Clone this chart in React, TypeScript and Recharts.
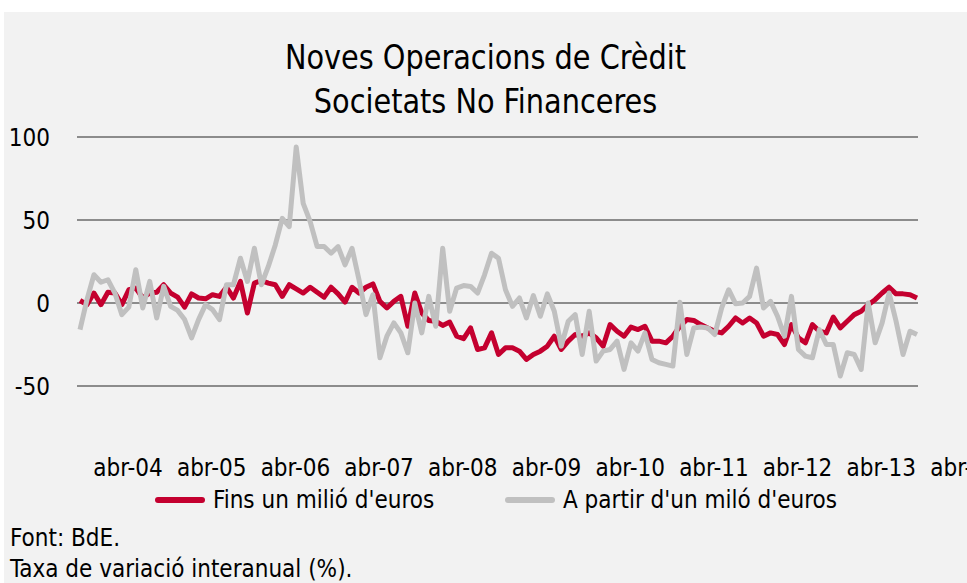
import { LineChart, Line, XAxis, YAxis, ReferenceLine } from "recharts";

const FONT = "'DejaVu Sans Condensed', 'DejaVu Sans', sans-serif";
const RED = "#c4002f";
const GRAY = "#c0c0c0";

// mesos en català, la sèrie comença a abr-04
const monthNames = ["gen", "feb", "març", "abr", "maig", "juny", "jul", "ag", "set", "oct", "nov", "des"];
const startMonth = 3;
const startYear = 4;

// Fins un milió d'euros (taxa interanual, %)
const finsUnMilio = [
  1.5, -1, 6, -1, 6.5, 6, -1, 8, 9, 3, 6, 6.5,
  11, 6, 3.5, -2.5, 5.5, 3, 2.5, 5, 4, 9.5, 3, 13,
  -6, 12, 13.5, 12, 11, 4, 11, 8.5, 6, 9.5, 6.5, 3.5,
  9.5, 5.5, 0.5, 9.5, 6, 9.5, 11.5, 1, -3, 1, 4, -14,
  6, -6, -10.5, -11, -13.5, -11.5, -20, -21.5, -15, -28, -27, -18,
  -31, -27, -27, -29, -34, -31, -29, -26, -20, -28, -23, -19,
  -20, -18, -21, -26, -13, -17, -20, -14.5, -16, -14, -23, -23,
  -24, -20, -14, -10, -10.5, -13, -15, -17, -18, -14, -9, -12,
  -9, -12, -20, -18, -19, -25, -13, -21, -24, -13, -17, -18,
  -8.5, -15, -11, -7, -5, -1, 2, 6, 9.5, 5.5, 5.5, 5,
  3,
];

// A partir d'un milió d'euros (taxa interanual, %)
const aPartirMilio = [
  -16, 2, 17, 12.5, 14, 6, -7, -2.5, 20, -3, 13, -9,
  10, -2, -4.5, -10, -21, -10, -1, -4, -10, 11, 11, 27,
  13, 33, 11, 22, 35, 51, 46, 94, 60, 49, 34, 34,
  30, 34, 23, 33, 14, -7, 5, -33, -20, -12, -18, -30,
  0, -18, 4, -14, 33, -5, 9, 10.5, 10, 6, 17, 30,
  27, 8, -2, 3, -9, 4.5, -8, 5.5, -5, -26, -11, -7,
  -31, -5, -35, -29, -28, -23, -40, -24, -29, -18, -34, -36,
  -37, -38, 0.5, -31, -15, -14.5, -15, -19, -3, 8, -0.5, 0,
  4, 21, -3, 1, -8, -20, 4, -28, -32, -33, -16, -25,
  -25, -44, -30, -31, -40, 0, -24, -12, 6, -11, -31, -17,
  -19,
];

const yTicks = [-50, 0, 50, 100];

const categories = finsUnMilio.map((_, i) => {
  const m = (startMonth + i) % 12;
  const y = startYear + Math.floor((startMonth + i) / 12);
  return `${monthNames[m]}-${String(y).padStart(2, "0")}`;
});

const data = categories.map((month, i) => ({
  month,
  fins: finsUnMilio[i],
  apartir: aPartirMilio[i],
}));

function MonthTick({ x, y, payload }: any) {
  return (
    <text
      x={x + 48}
      y={y - 10}
      dy="0.71em"
      textAnchor="middle"
      fontSize={24}
      fontFamily={FONT}
      style={{ fontStretch: "condensed" }}
      fill="#000"
    >
      {payload.value}
    </text>
  );
}

function LegendItem({ color, label, left }: { color: string; label: string; left: number }) {
  return (
    <div style={{ position: "absolute", left, top: 474, display: "flex", alignItems: "center", height: 28 }}>
      <div style={{ width: 50, height: 6, borderRadius: 3, background: color, marginRight: 8 }} />
      <span>{label}</span>
    </div>
  );
}

export default function App() {
  return (
    <div
      style={{
        position: "absolute",
        left: 4,
        top: 12,
        width: 963,
        height: 571,
        background: "#f2f2f2",
        fontFamily: FONT,
        fontStretch: "condensed",
        fontSize: 24,
        color: "#000",
        overflow: "hidden",
      }}
    >
      <LineChart width={963} height={500} data={data} margin={{ top: 125, right: 49, left: 0, bottom: 3 }}>
        {yTicks.map((v) => (
          <ReferenceLine key={v} y={v} stroke="#8c8c8c" strokeWidth={2} />
        ))}
        <XAxis
          dataKey="month"
          interval={11}
          tick={<MonthTick />}
          tickLine={false}
          axisLine={false}
          tickSize={0}
          tickMargin={0}
          height={40}
          padding={{ left: 3, right: 1 }}
        />
        <YAxis
          domain={[-100, 100]}
          ticks={yTicks}
          tick={{ fontSize: 24, fontFamily: FONT, fill: "#000", style: { fontStretch: "condensed" } }}
          tickLine={false}
          axisLine={false}
          tickSize={0}
          tickMargin={27}
          width={73}
        />
        <Line
          type="linear"
          dataKey="fins"
          stroke={RED}
          strokeWidth={5}
          strokeLinejoin="round"
          dot={false}
          isAnimationActive={false}
        />
        <Line
          type="linear"
          dataKey="apartir"
          stroke={GRAY}
          strokeWidth={5}
          strokeLinejoin="round"
          dot={false}
          isAnimationActive={false}
        />
      </LineChart>

      <div
        style={{
          position: "absolute",
          top: 23,
          left: 0,
          width: "100%",
          textAlign: "center",
          fontSize: 34,
          lineHeight: "44px",
          transform: "scaleX(0.94)",
        }}
      >
        <div>Noves Operacions de Crèdit</div>
        <div>Societats No Financeres</div>
      </div>

      <LegendItem color={RED} label="Fins un milió d'euros" left={151} />
      <LegendItem color={GRAY} label="A partir d'un miló d'euros" left={501} />

      <div style={{ position: "absolute", left: 6, top: 511, lineHeight: "31px" }}>
        <div>Font: BdE.</div>
        <div>Taxa de variació interanual (%).</div>
      </div>
    </div>
  );
}
